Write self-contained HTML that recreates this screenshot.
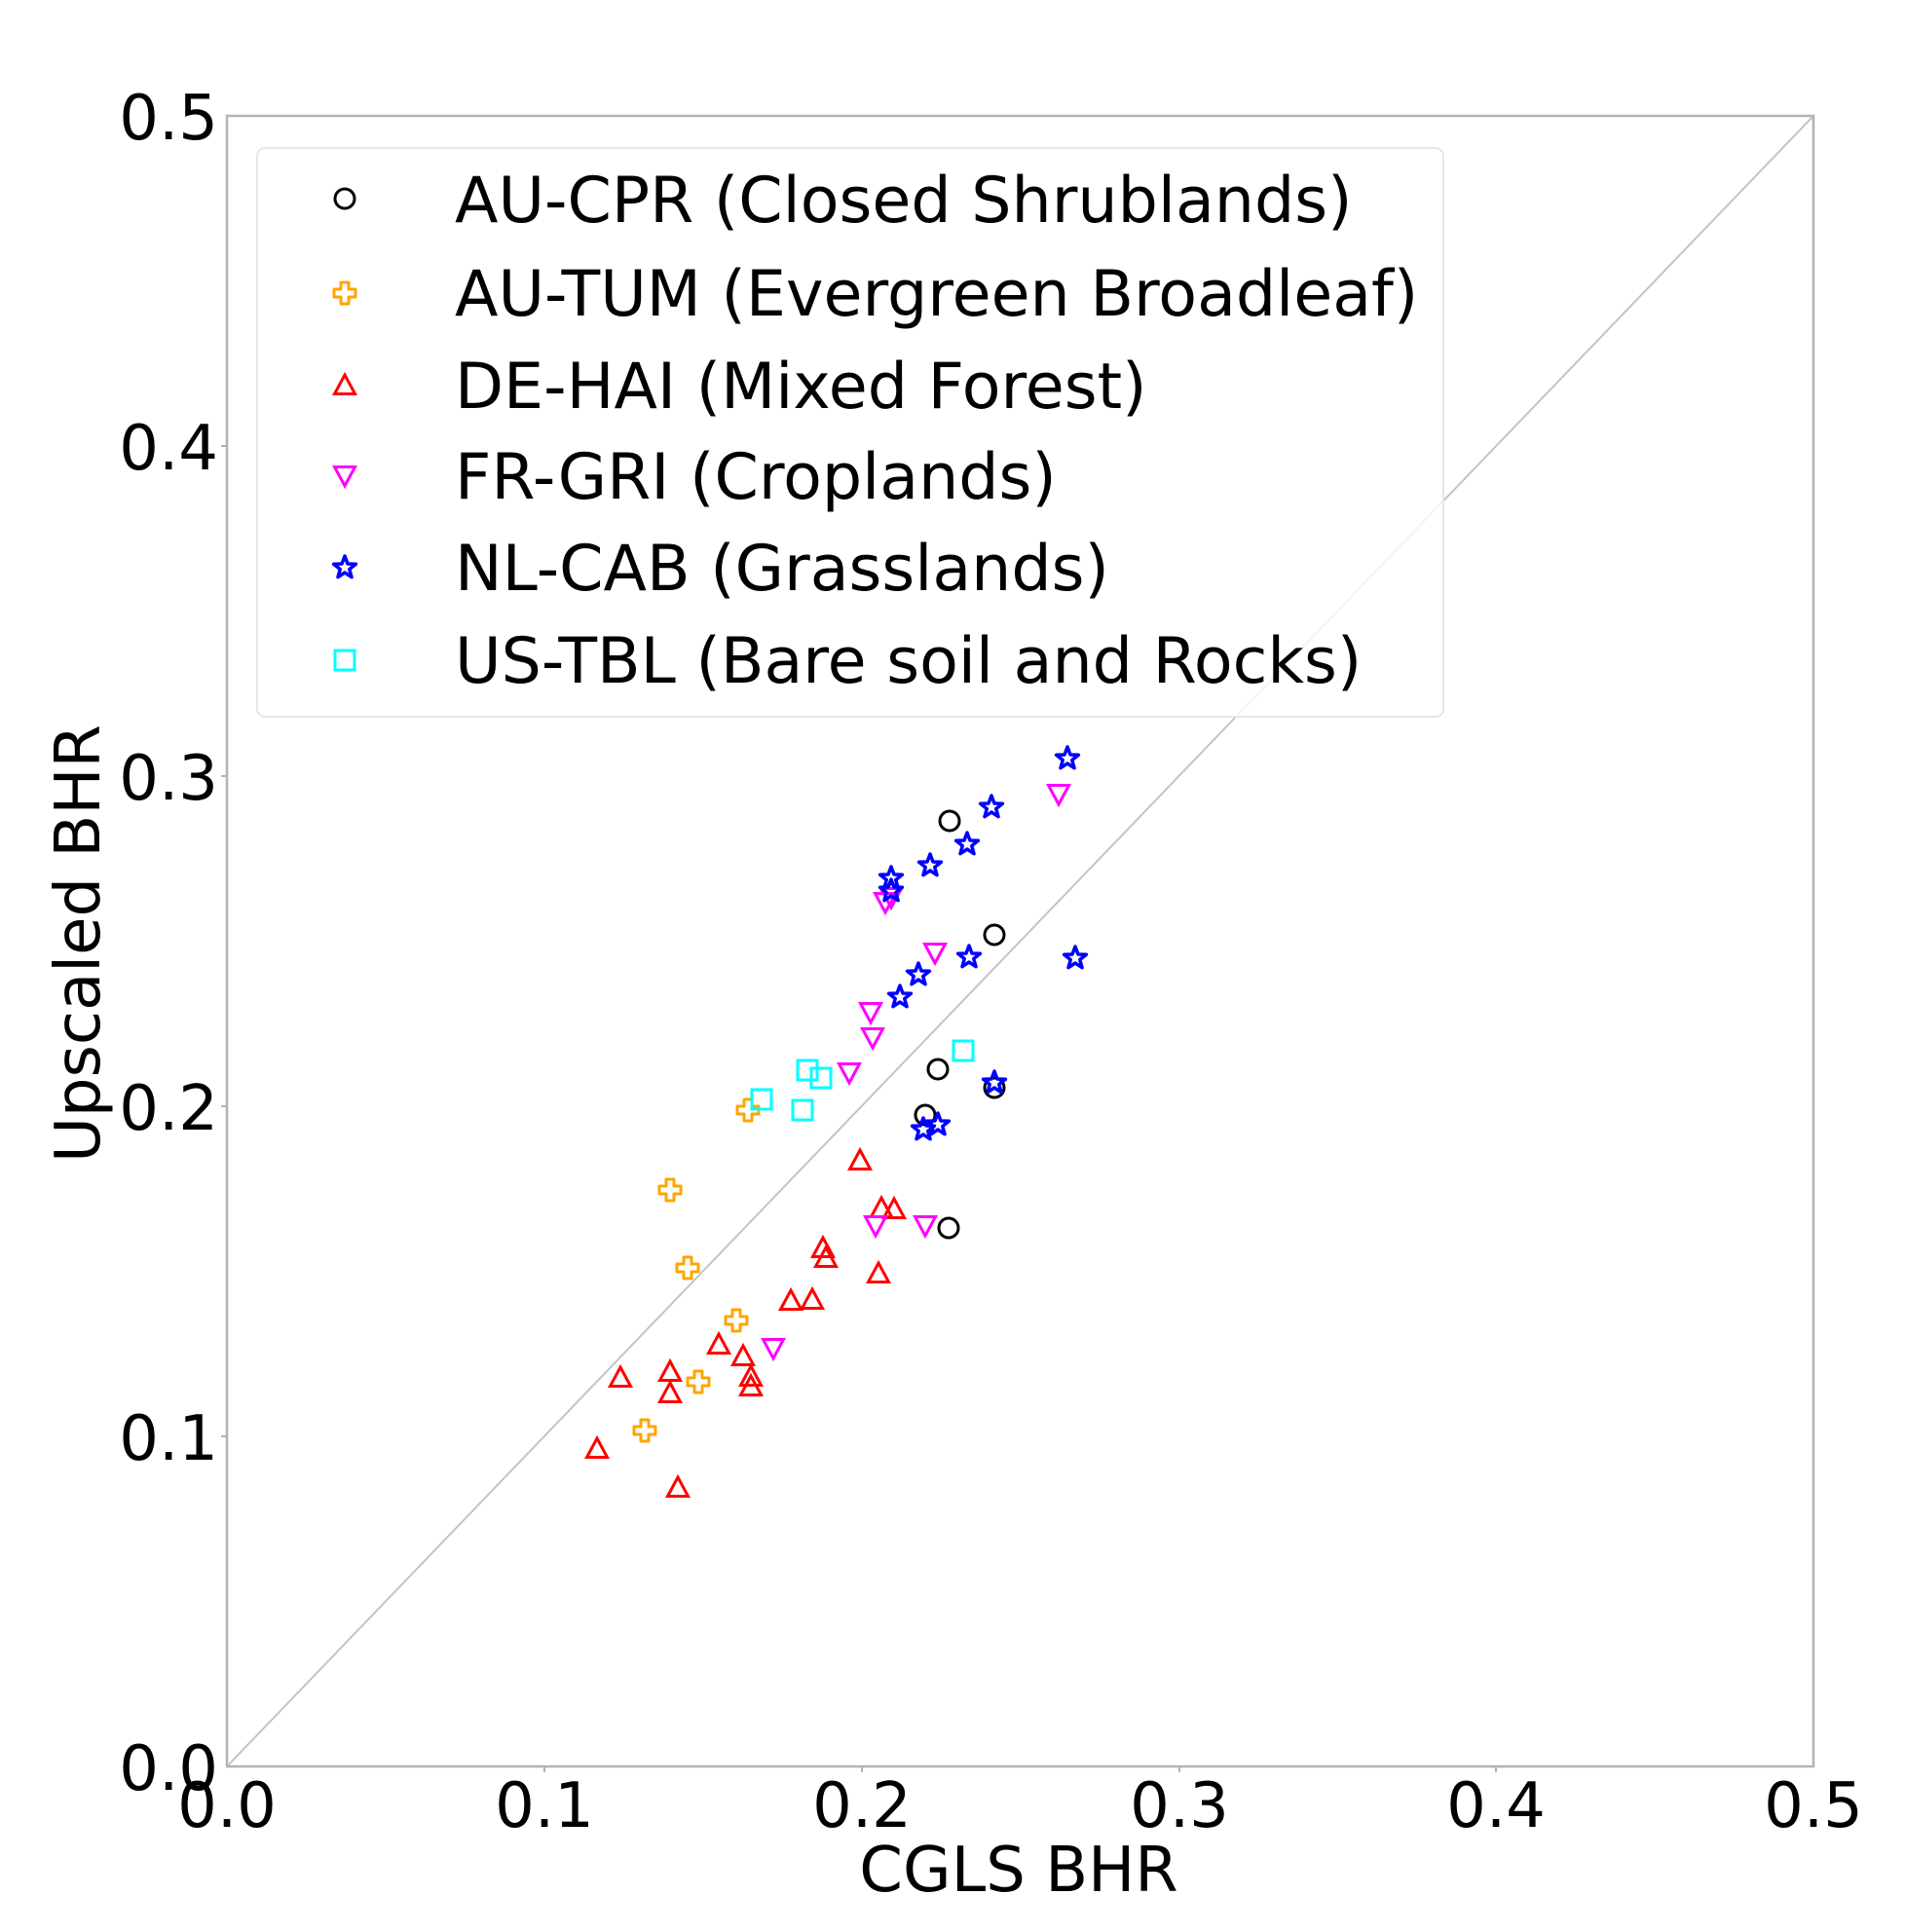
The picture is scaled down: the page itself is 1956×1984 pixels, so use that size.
<!DOCTYPE html>
<html><head><meta charset="utf-8"><style>
html,body{margin:0;padding:0;background:#fff;}
svg{display:block;}
text{font-family:"DejaVu Sans","Liberation Sans",sans-serif;fill:#000;}
</style></head><body>
<svg width="1956" height="1984" viewBox="0 0 1956 1984" xmlns="http://www.w3.org/2000/svg">
<defs>
<circle id="mc" r="10" fill="none" stroke="#000" stroke-width="3"/>
<polygon id="mp" points="-4,-11 4,-11 4,-4 11,-4 11,4 4,4 4,11 -4,11 -4,4 -11,4 -11,-4 -4,-4" fill="none" stroke="orange" stroke-width="3" stroke-linejoin="round"/>
<polygon id="mt" points="0,-11 10.5,8.5 -10.5,8.5" fill="none" stroke="red" stroke-width="3"/>
<polygon id="mv" points="0,11 10.5,-8.5 -10.5,-8.5" fill="none" stroke="magenta" stroke-width="3"/>
<polygon id="ms" points="0,-12 2.94,-4.05 11.41,-3.71 4.76,1.55 7.05,9.71 0,5 -7.05,9.71 -4.76,1.55 -11.41,-3.71 -2.94,-4.05" fill="none" stroke="blue" stroke-width="3.5" stroke-linejoin="round"/>
<rect id="mq" x="-10" y="-10" width="20" height="20" fill="none" stroke="cyan" stroke-width="3"/>
</defs>
<rect x="0" y="0" width="1956" height="1984" fill="#fff"/>
<line x1="233" y1="1814" x2="1862" y2="119" stroke="#c4c4c4" stroke-width="2"/>
<rect x="233" y="119" width="1629" height="1695" fill="none" stroke="#b3b3b3" stroke-width="2.5"/>
<g stroke="#b3b3b3" stroke-width="2">
<line x1="559" y1="1814" x2="559" y2="1820"/><line x1="885" y1="1814" x2="885" y2="1820"/><line x1="1211" y1="1814" x2="1211" y2="1820"/><line x1="1536" y1="1814" x2="1536" y2="1820"/>
<line x1="227" y1="1475" x2="233" y2="1475"/><line x1="227" y1="1136" x2="233" y2="1136"/><line x1="227" y1="797" x2="233" y2="797"/><line x1="227" y1="458" x2="233" y2="458"/>
</g>
<g font-size="64" text-anchor="middle">
<text x="233" y="1876">0.0</text><text x="559" y="1876">0.1</text><text x="885" y="1876">0.2</text><text x="1211" y="1876">0.3</text><text x="1536" y="1876">0.4</text><text x="1862" y="1876">0.5</text>
</g>
<g font-size="64" text-anchor="end">
<text x="224" y="1838">0.0</text><text x="224" y="1499">0.1</text><text x="224" y="1160">0.2</text><text x="224" y="821">0.3</text><text x="224" y="482">0.4</text><text x="224" y="143">0.5</text>
</g>
<text x="1046" y="1942" font-size="64" text-anchor="middle">CGLS BHR</text>
<text transform="translate(102,969) rotate(-90)" font-size="64" text-anchor="middle">Upscaled BHR</text>
<rect x="264" y="152" width="1218" height="584" rx="8" fill="#fff" fill-opacity="0.8" stroke="#e6e6e6" stroke-width="2"/>
<use href="#mc" x="354" y="204"/>
<use href="#mp" x="354" y="301"/>
<use href="#mt" x="354" y="396"/>
<use href="#mv" x="354" y="488"/>
<use href="#ms" x="354" y="583"/>
<use href="#mq" x="354" y="678"/>
<g font-size="65">
<text x="467" y="228">AU-CPR (Closed Shrublands)</text>
<text x="467" y="324">AU-TUM (Evergreen Broadleaf)</text>
<text x="467" y="419">DE-HAI (Mixed Forest)</text>
<text x="467" y="512">FR-GRI (Croplands)</text>
<text x="467" y="606">NL-CAB (Grasslands)</text>
<text x="467" y="701">US-TBL (Bare soil and Rocks)</text>
</g>
<g>
<use href="#mc" x="975" y="843"/><use href="#mc" x="1021" y="960"/><use href="#mc" x="963" y="1098"/><use href="#mc" x="950" y="1145"/><use href="#mc" x="1021" y="1117"/><use href="#mc" x="974" y="1261"/>
<use href="#mp" x="768" y="1140"/><use href="#mp" x="688" y="1222"/><use href="#mp" x="706" y="1302"/><use href="#mp" x="756" y="1356"/><use href="#mp" x="717" y="1419"/><use href="#mp" x="662" y="1469"/>
<use href="#mt" x="883" y="1192"/><use href="#mt" x="905" y="1241"/><use href="#mt" x="918" y="1242"/><use href="#mt" x="845" y="1282"/><use href="#mt" x="848" y="1292"/><use href="#mt" x="902" y="1308"/><use href="#mt" x="812" y="1336"/><use href="#mt" x="834" y="1335"/><use href="#mt" x="738" y="1381"/><use href="#mt" x="763" y="1393"/><use href="#mt" x="688" y="1409"/><use href="#mt" x="771" y="1414"/><use href="#mt" x="637" y="1415"/><use href="#mt" x="771" y="1424"/><use href="#mt" x="688" y="1431"/><use href="#mt" x="613" y="1488"/><use href="#mt" x="696" y="1528"/>
<use href="#mv" x="1087" y="815"/><use href="#mv" x="909" y="926"/><use href="#mv" x="915" y="921"/><use href="#mv" x="960" y="978"/><use href="#mv" x="894" y="1039"/><use href="#mv" x="896" y="1065"/><use href="#mv" x="872" y="1101"/><use href="#mv" x="899" y="1258"/><use href="#mv" x="950" y="1258"/><use href="#mv" x="794" y="1384"/>
<use href="#ms" x="1096" y="779"/><use href="#ms" x="1018" y="829"/><use href="#ms" x="993" y="867"/><use href="#ms" x="955" y="889"/><use href="#ms" x="915" y="902"/><use href="#ms" x="915" y="915"/><use href="#ms" x="995" y="983"/><use href="#ms" x="1104" y="984"/><use href="#ms" x="943" y="1001"/><use href="#ms" x="924" y="1024"/><use href="#ms" x="1021" y="1112"/><use href="#ms" x="948" y="1160"/><use href="#ms" x="963" y="1155"/>
<use href="#mq" x="782" y="1129"/><use href="#mq" x="829" y="1099"/><use href="#mq" x="843" y="1107"/><use href="#mq" x="824" y="1140"/><use href="#mq" x="989" y="1079"/>
</g>
</svg>
</body></html>
